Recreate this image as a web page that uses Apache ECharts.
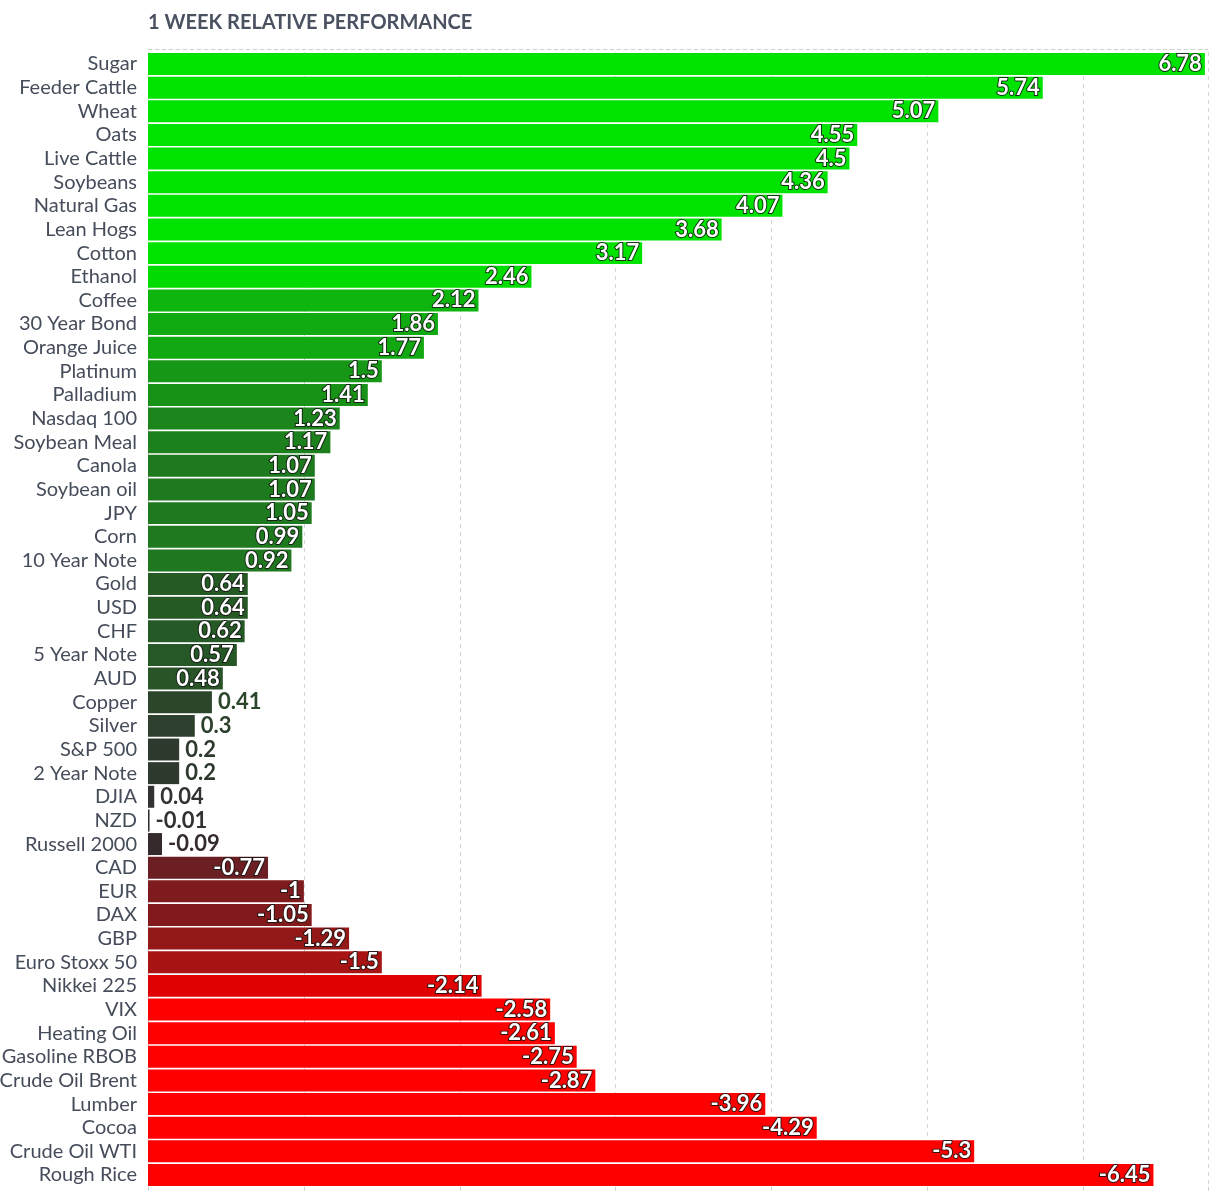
<!DOCTYPE html>
<html>
<head>
<meta charset="utf-8">
<script src="https://cdn.jsdelivr.net/npm/echarts@6/dist/echarts.min.js"></script>
<style>
html,body{margin:0;padding:0;background:#fff;}
#chart{width:1210px;height:1192px;}
</style>
</head>
<body>
<div id="chart"></div>
<script>
const title = '1 WEEK RELATIVE PERFORMANCE';
const categories = ['Sugar','Feeder Cattle','Wheat','Oats','Live Cattle','Soybeans','Natural Gas','Lean Hogs','Cotton','Ethanol','Coffee','30 Year Bond','Orange Juice','Platinum','Palladium','Nasdaq 100','Soybean Meal','Canola','Soybean oil','JPY','Corn','10 Year Note','Gold','USD','CHF','5 Year Note','AUD','Copper','Silver','S&P 500','2 Year Note','DJIA','NZD','Russell 2000','CAD','EUR','DAX','GBP','Euro Stoxx 50','Nikkei 225','VIX','Heating Oil','Gasoline RBOB','Crude Oil Brent','Lumber','Cocoa','Crude Oil WTI','Rough Rice'];
const values = [6.78,5.74,5.07,4.55,4.5,4.36,4.07,3.68,3.17,2.46,2.12,1.86,1.77,1.5,1.41,1.23,1.17,1.07,1.07,1.05,0.99,0.92,0.64,0.64,0.62,0.57,0.48,0.41,0.3,0.2,0.2,0.04,-0.01,-0.09,-0.77,-1,-1.05,-1.29,-1.5,-2.14,-2.58,-2.61,-2.75,-2.87,-3.96,-4.29,-5.3,-6.45];

// colour scale (value -> colour), piecewise linear
const colorStops = [
  [-2.58,'#ff0000'],[-2.14,'#e00202'],[-1.5,'#a81414'],[-1.29,'#931818'],[-1.05,'#821a1b'],
  [-1,'#7e1b1e'],[-0.77,'#6b1f23'],[-0.09,'#352b2c'],[0,'#333333'],[0.2,'#2e3a2e'],
  [0.41,'#2b462b'],[0.48,'#285428'],[0.64,'#255a25'],[0.92,'#1f781f'],[1.07,'#1e7a1e'],
  [1.41,'#179217'],[1.77,'#12a812'],[2.12,'#0fb50f'],[2.46,'#02dc02'],[3.0,'#00e300']
];
function hex2rgb(h){return [parseInt(h.substr(1,2),16),parseInt(h.substr(3,2),16),parseInt(h.substr(5,2),16)];}
function colorFor(v){
  if(v<=colorStops[0][0]) return colorStops[0][1];
  const last=colorStops[colorStops.length-1];
  if(v>=last[0]) return last[1];
  for(let i=0;i<colorStops.length-1;i++){
    const a=colorStops[i],b=colorStops[i+1];
    if(v>=a[0]&&v<=b[0]){
      const t=(v-a[0])/(b[0]-a[0]);
      const ca=hex2rgb(a[1]),cb=hex2rgb(b[1]);
      const c=ca.map((x,k)=>Math.round(x+(cb[k]-x)*t));
      return 'rgb('+c.join(',')+')';
    }
  }
  return last[1];
}

const data = values.map(v=>{
  const col=colorFor(v);
  const inside=Math.abs(v)>=0.45;
  return {
    value: Math.abs(v),
    itemStyle:{color:col},
    label: inside ? {
      position:'insideRight', distance:3, color:'#fff',
      textBorderColor:'rgba(20,20,20,0.85)', textBorderWidth:2
    } : {
      position:'right', distance:6, color:col,
      textBorderColor:'#fff', textBorderWidth:2
    }
  };
});

const chart = echarts.init(document.getElementById('chart'), null, {renderer:'canvas'});
chart.setOption({
  animation:false,
  title:{
    text:title, left:143, top:8,
    textStyle:{fontFamily:'Lato',fontWeight:'bold',fontSize:20,color:'#4a5160'}
  },
  grid:{left:148,right:2,top:52.2,bottom:5.2,containLabel:false,outerBoundsMode:'none'},
  xAxis:[{
    type:'value', min:0, max:6.8, interval:1, position:'bottom',
    axisLine:{show:false},
    axisTick:{show:true,length:6,lineStyle:{color:'#d0d0d0',type:'dashed'}},
    axisLabel:{show:false},
    splitLine:{show:true,lineStyle:{color:'#d4d4d4',type:[4,4],width:1}}
  },{
    type:'value', min:0, max:6.8, position:'top', offset:3,
    axisLine:{show:true,lineStyle:{color:'#d0d0d0',type:[4,3],width:1}},
    axisTick:{show:false}, axisLabel:{show:false}, splitLine:{show:false}
  }],
  yAxis:{
    type:'category', data:categories, inverse:true,
    axisLine:{show:false}, axisTick:{show:false},
    axisLabel:{interval:0,margin:11,fontFamily:'Lato',fontSize:20,color:'#454c5a'}
  },
  series:[{
    type:'bar', xAxisIndex:0, data:data, barCategoryGap:'7%',
    label:{
      show:true, fontFamily:'Lato', fontWeight:'bold', fontSize:22,
      formatter:p=>String(values[p.dataIndex])
    }
  }]
});
</script>
</body>
</html>
